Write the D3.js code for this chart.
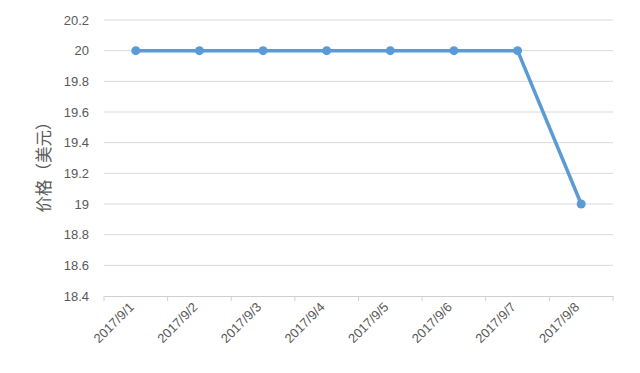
<!DOCTYPE html>
<html>
<head>
<meta charset="utf-8">
<script src="https://cdn.jsdelivr.net/npm/d3@7"></script>
<style>
  body { margin: 0; background: #fff; }
  svg { display: block; font-family: "Liberation Sans", "Noto Sans CJK SC", sans-serif; }
</style>
</head>
<body>
<svg width="640" height="373"></svg>
<script>
var dates = ["2017/9/1", "2017/9/2", "2017/9/3", "2017/9/4", "2017/9/5", "2017/9/6", "2017/9/7", "2017/9/8"];
var prices = [20, 20, 20, 20, 20, 20, 20, 19];
var yTicks = [18.4, 18.6, 18.8, 19, 19.2, 19.4, 19.6, 19.8, 20, 20.2];

var svg = d3.select("svg"),
    margin = {top: 20, right: 27, bottom: 77, left: 104},
    width = +svg.attr("width") - margin.left - margin.right,
    height = +svg.attr("height") - margin.top - margin.bottom;

var x = d3.scaleBand().domain(dates).range([0, width]),
    y = d3.scaleLinear().domain([18.4, 20.2]).range([height, 0]);

var g = svg.append("g")
    .attr("transform", "translate(" + margin.left + "," + margin.top + ")");

// gridlines
g.selectAll(".grid")
    .data(yTicks.slice(1))
    .enter().append("line")
    .attr("x1", 0).attr("x2", width)
    .attr("y1", function(d) { return y(d); })
    .attr("y2", function(d) { return y(d); })
    .attr("stroke", "#d9d9d9")
    .attr("stroke-width", 1);

// y axis labels
var yAxis = g.append("g")
    .call(d3.axisLeft(y).tickValues(yTicks).tickSize(0).tickPadding(15).tickFormat(d3.format("~g")));
yAxis.select(".domain").remove();
yAxis.selectAll("text")
    .attr("fill", "#595959")
    .style("font-size", "13px");

// x axis
var xAxis = g.append("g")
    .attr("transform", "translate(0," + height + ")")
    .call(d3.axisBottom(x).tickSize(0).tickPadding(0));
xAxis.select(".domain").attr("stroke", "#d0d0d0");
xAxis.selectAll(".tick line").remove();
xAxis.selectAll(".sep")
    .data(dates.concat(["end"]))
    .enter().append("line")
    .attr("x1", function(d, i) { return i * x.step(); })
    .attr("x2", function(d, i) { return i * x.step(); })
    .attr("y1", 0).attr("y2", 5)
    .attr("stroke", "#d0d0d0");
xAxis.selectAll(".tick text")
    .attr("fill", "#595959")
    .style("font-size", "13px")
    .attr("text-anchor", "end")
    .attr("dy", 0)
    .attr("transform", "translate(-1,12) rotate(-45)");

// y title
svg.append("text")
    .attr("transform", "translate(50," + 163 + ") rotate(-90)")
    .attr("text-anchor", "middle")
    .attr("fill", "#595959")
    .style("font-size", "16.5px")
    .style("font-family", "'Noto Sans CJK SC', sans-serif")
    .text("价格（美元）");

// line
var line = d3.line()
    .x(function(d, i) { return x(dates[i]) + x.bandwidth() / 2; })
    .y(function(d) { return y(d); });

g.append("path")
    .datum(prices)
    .attr("fill", "none")
    .attr("stroke", "#5B9BD5")
    .attr("stroke-width", 3.5)
    .attr("stroke-linejoin", "round")
    .attr("d", line);

g.selectAll(".dot")
    .data(prices)
    .enter().append("circle")
    .attr("cx", function(d, i) { return x(dates[i]) + x.bandwidth() / 2; })
    .attr("cy", function(d) { return y(d); })
    .attr("r", 4.5)
    .attr("fill", "#5B9BD5");
</script>
</body>
</html>
